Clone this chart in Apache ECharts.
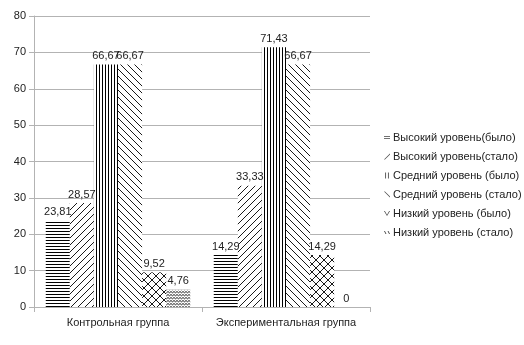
<!DOCTYPE html>
<html>
<head>
<meta charset="utf-8">
<script src="https://cdn.jsdelivr.net/npm/echarts@6/dist/echarts.min.js"></script>
<style>
  html, body { margin: 0; padding: 0; background: #fff; }
  #chart { width: 524px; height: 345px; }
</style>
</head>
<body>
<div id="chart"></div>
<script>
const categories = ['Контрольная группа', 'Экспериментальная группа'];
const seriesNames = [
  'Высокий уровень(было)',
  'Высокий уровень(стало)',
  'Средний уровень (было)',
  'Средний уровень (стало)',
  'Низкий уровень (было)',
  'Низкий уровень (стало)'
];
const highBefore = [23.81, 14.29];
const highAfter = [28.57, 33.33];
const midBefore = [66.67, 71.43];
const midAfter = [66.67, 66.67];
const lowBefore = [9.52, 14.29];
const lowAfter = [4.76, 0];
const yTicks = [0, 10, 20, 30, 40, 50, 60, 70, 80];

const seriesValues = [highBefore, highAfter, midBefore, midAfter, lowBefore, lowAfter];

// hatch fills drawn on small tiles
const makeTile = (w, h, draw) => {
  const c = document.createElement('canvas');
  c.width = w;
  c.height = h;
  const ctx = c.getContext('2d');
  ctx.fillStyle = '#fff';
  ctx.fillRect(0, 0, w, h);
  ctx.strokeStyle = '#000';
  ctx.fillStyle = '#000';
  ctx.lineWidth = 0.9;
  draw(ctx, w, h);
  return { image: c, repeat: 'repeat' };
};

const line = (ctx, x1, y1, x2, y2) => {
  ctx.beginPath();
  ctx.moveTo(x1, y1);
  ctx.lineTo(x2, y2);
  ctx.stroke();
};

const patterns = [
  makeTile(4, 3, (ctx, w) => ctx.fillRect(0, 0, w, 1)),
  makeTile(7, 7, (ctx, w, h) => {
    line(ctx, 0, h, w, 0);
    line(ctx, -1, 1, 1, -1);
    line(ctx, w - 1, h + 1, w + 1, h - 1);
  }),
  makeTile(3, 4, (ctx, w, h) => ctx.fillRect(0, 0, 1, h)),
  makeTile(7, 7, (ctx, w, h) => {
    line(ctx, 0, 0, w, h);
    line(ctx, w - 1, -1, w + 1, 1);
    line(ctx, -1, h - 1, 1, h + 1);
  }),
  makeTile(8, 8, (ctx, w, h) => {
    line(ctx, 0, 0, w, h);
    line(ctx, 0, h, w, 0);
  }),
  makeTile(3, 3, (ctx) => {
    ctx.beginPath();
    ctx.moveTo(0, 0.5);
    ctx.lineTo(1.5, 1.8);
    ctx.lineTo(3, 0.5);
    ctx.stroke();
  })
];

// small glyph icons for the legend
const legendIcons = [
  'path://M0,3H10V4.2H0Z M0,7H10V8.2H0Z',
  'path://M0,10L1.6,10L10,1.6L10,0Z',
  'path://M2,0H3.4V10H2Z M6.6,0H8V10H6.6Z',
  'path://M0,0L1.6,0L10,8.4L10,10Z',
  'path://M0,2L1.4,2L5,8L8.6,2L10,2L5,10Z',
  'path://M1,1L2.2,1L4.2,5L3,5Z M5.5,1L6.7,1L8.7,5L7.5,5Z'
];

const fmt = (v) => String(v).replace('.', ',');

const chart = echarts.init(document.getElementById('chart'), null, { renderer: 'canvas' });

const option = {
  backgroundColor: '#fff',
  animation: false,
  textStyle: { fontFamily: 'Liberation Sans, Arial, sans-serif' },
  grid: { left: 34, right: 154, top: 16, bottom: 38 },
  legend: {
    orient: 'vertical',
    left: 379,
    top: 127,
    itemWidth: 6,
    itemHeight: 6,
    itemGap: 8,
    textStyle: { fontSize: 11, color: '#222', padding: [0, 0, 0, -2] },
    data: seriesNames.map((name, i) => ({
      name,
      icon: legendIcons[i],
      itemStyle: { color: '#444' }
    }))
  },
  xAxis: {
    type: 'category',
    data: categories,
    axisLine: { lineStyle: { color: '#b3b3b3' } },
    axisTick: { show: true, length: 5, lineStyle: { color: '#b3b3b3' } },
    axisLabel: { color: '#222', fontSize: 11, margin: 10, interval: 0 }
  },
  yAxis: {
    type: 'value',
    min: yTicks[0],
    max: yTicks[yTicks.length - 1],
    interval: 10,
    axisLine: { show: true, lineStyle: { color: '#b3b3b3' } },
    axisTick: { show: true, length: 5, lineStyle: { color: '#b3b3b3' } },
    axisLabel: { color: '#222', fontSize: 11, margin: 8 },
    splitLine: { lineStyle: { color: '#b3b3b3' } }
  },
  series: seriesNames.map((name, i) => ({
    name,
    type: 'bar',
    data: seriesValues[i],
    barGap: '0%',
    barCategoryGap: '14%',
    itemStyle: { color: patterns[i] },
    label: {
      show: true,
      position: 'top',
      distance: 3,
      fontSize: 11,
      color: '#222',
      formatter: (p) => fmt(p.value)
    }
  }))
};

chart.setOption(option);
</script>
</body>
</html>
